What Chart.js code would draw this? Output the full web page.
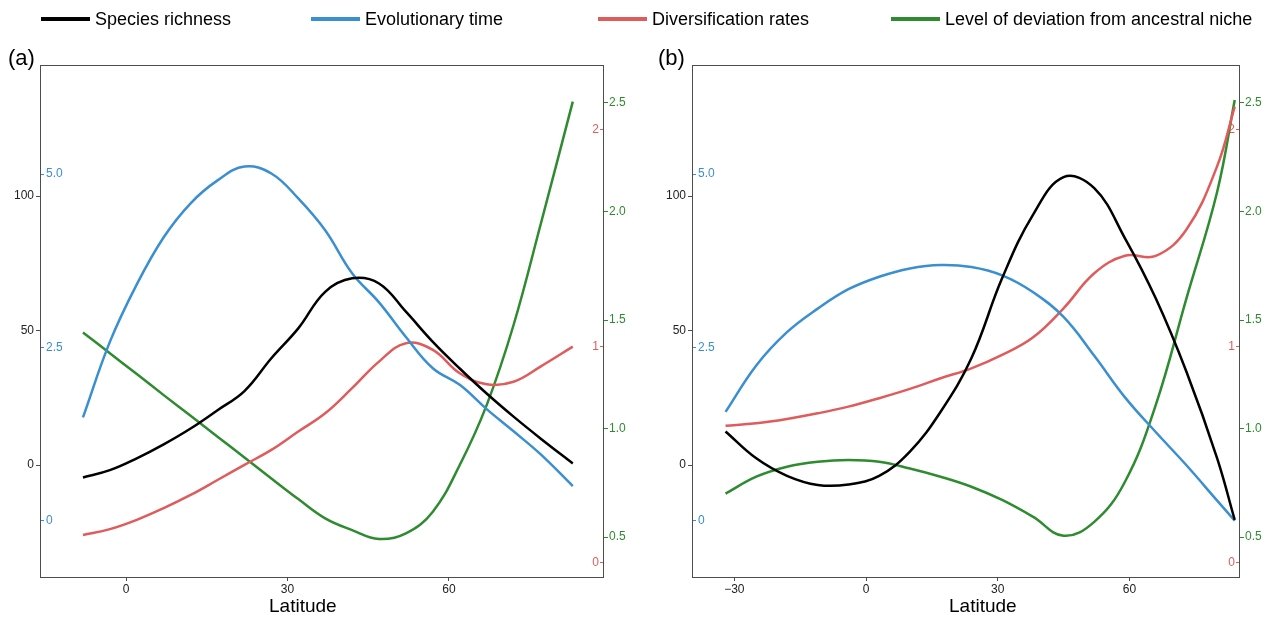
<!DOCTYPE html>
<html>
<head>
<meta charset="utf-8">
<script src="https://cdn.jsdelivr.net/npm/chart.js@4.4.1/dist/chart.umd.min.js"></script>
<style>
  body { margin: 0; background: #fff; font-family: "Liberation Sans", Arial, sans-serif; }
  #wrap { position: relative; width: 1285px; height: 617px; overflow: hidden; }
  canvas { position: absolute; top: 0; }
  #chartA { left: 0; }
  #chartB { left: 640px; }
  .legend-item { position: absolute; top: 9px; display: flex; align-items: center; font-size: 18px; line-height: 20px; color: #000; white-space: nowrap; }
  .legend-item span { display: inline-block; width: 49px; height: 4px; margin-right: 5px; }
  .panel { position: absolute; top: 45px; font-size: 22px; color: #000; }
  .xtitle { position: absolute; top: 596px; font-size: 19px; line-height: 20px; color: #000; }
</style>
</head>
<body>
<div id="wrap">
  <canvas id="chartA" width="640" height="617"></canvas>
  <canvas id="chartB" width="645" height="617"></canvas>
  <div id="legend"></div>
  <div class="panel" style="left:8px">(a)</div>
  <div class="panel" style="left:658px">(b)</div>
  <div class="xtitle" style="left:269px">Latitude</div>
  <div class="xtitle" style="left:949px">Latitude</div>
</div>
<script>
// series names + colours
const seriesNames = ["Species richness", "Evolutionary time", "Diversification rates", "Level of deviation from ancestral niche"];
const seriesColors = ["#000000", "#3a8fd1", "#e05b5b", "#2e8b30"];

// panel (a)
const latA = [-8, -3, 2, 7, 12, 17, 22, 27, 32, 37, 42, 47, 52, 57, 62, 67, 72, 77, 83];
const richnessA = [-4.6, -1.9, 2.5, 7.7, 13.6, 20.4, 27.5, 39.7, 50.8, 64.4, 69.4, 67.5, 57.0, 45.8, 35.9, 26.6, 18.0, 9.9, 0.6];
const timeA = [1.49, 2.58, 3.41, 4.09, 4.58, 4.91, 5.11, 5.01, 4.65, 4.19, 3.57, 3.15, 2.65, 2.20, 1.96, 1.61, 1.29, 0.96, 0.50];
const rateA = [0.129, 0.156, 0.199, 0.253, 0.314, 0.383, 0.453, 0.522, 0.607, 0.691, 0.807, 0.930, 1.015, 0.984, 0.876, 0.825, 0.837, 0.907, 0.999];
const nicheA = [1.443, 1.347, 1.251, 1.154, 1.059, 0.962, 0.867, 0.770, 0.675, 0.586, 0.532, 0.491, 0.517, 0.617, 0.832, 1.108, 1.477, 1.938, 2.506];

// panel (b)
const latB = [-32, -25, -18, -11, -4, 3, 10, 17, 24, 31, 38, 45, 52, 59, 66, 73, 80, 84];
const richnessB = [12.5, 2.5, -4.0, -7.4, -7.2, -4.0, 5.0, 19.8, 39.7, 69.4, 92.9, 107.0, 102.9, 84.3, 62.0, 34.7, 2.5, -20.4];
const timeB = [1.57, 2.24, 2.72, 3.06, 3.34, 3.52, 3.64, 3.69, 3.66, 3.54, 3.30, 2.94, 2.38, 1.78, 1.28, 0.80, 0.29, 0.0];
const rateB = [0.634, 0.645, 0.665, 0.691, 0.722, 0.761, 0.804, 0.853, 0.899, 0.961, 1.041, 1.176, 1.338, 1.419, 1.418, 1.54, 1.833, 2.108];
const nicheB = [0.70, 0.778, 0.824, 0.847, 0.855, 0.847, 0.816, 0.778, 0.732, 0.671, 0.594, 0.506, 0.57, 0.755, 1.108, 1.600, 2.091, 2.514];

// tick labels
const latTicksA = [0, 30, 60];
const latTicksB = [-30, 0, 30, 60];
const richnessTicks = [0, 50, 100];
const timeTicks = [0, 2.5, 5];
const rateTicks = [0, 1, 2];
const nicheTicks = [0.5, 1, 1.5, 2, 2.5];

Chart.defaults.font.family = '"Liberation Sans", Arial, sans-serif';
Chart.defaults.font.size = 12;

// html legend across both panels
const legendLeft = [41, 311, 598, 891];
const legend = document.getElementById("legend");
seriesNames.forEach((name, i) => {
  const item = document.createElement("div");
  item.className = "legend-item";
  item.style.left = legendLeft[i] + "px";
  item.innerHTML = `<span style="background:${seriesColors[i]}"></span>${name}`;
  legend.appendChild(item);
});

// box round the plot area
const frame = {
  id: "frame",
  afterDraw(chart) {
    const { ctx, chartArea: a } = chart;
    ctx.save();
    ctx.strokeStyle = "#4d4d4d";
    ctx.lineWidth = 1;
    ctx.strokeRect(Math.round(a.left) + 0.5, Math.round(a.top) + 0.5, Math.round(a.width) - 1, Math.round(a.height));
    ctx.restore();
  },
};

const setTicks = (values) => (scale) => {
  scale.ticks = values.map((v) => ({ value: v }));
};

function yAxis(opts) {
  return {
    position: opts.position,
    weight: opts.weight,
    min: opts.min,
    max: opts.max,
    afterBuildTicks: setTicks(opts.ticks),
    afterFit: (s) => { s.width = opts.width; },
    border: { display: false },
    grid: { drawOnChartArea: false, color: opts.tickColor, tickLength: opts.mirror ? -4 : 4 },
    ticks: {
      color: opts.color,
      mirror: opts.mirror,
      padding: opts.padding,
      callback: opts.format,
    },
  };
}

function drawPanel(id, lat, values, xMin, xMax, xTicks, leftW, rightW) {
  const datasets = values.map((vals, i) => ({
    label: seriesNames[i],
    data: lat.map((x, j) => ({ x, y: vals[j] })),
    yAxisID: ["yRich", "yTime", "yRate", "yNiche"][i],
    borderColor: seriesColors[i],
    borderWidth: 2.5,
    pointRadius: 0,
    tension: 0.4,
    fill: false,
  }));

  new Chart(document.getElementById(id), {
    type: "line",
    data: { datasets },
    options: {
      responsive: false,
      animation: false,
      layout: { padding: { top: 65, left: 0, right: 0, bottom: 0 } },
      plugins: { legend: { display: false }, tooltip: { enabled: false } },
      scales: {
        x: {
          type: "linear",
          min: xMin,
          max: xMax,
          afterBuildTicks: setTicks(xTicks),
          afterFit: (s) => { s.height = 40; },
          border: { display: false },
          grid: { drawOnChartArea: false, color: "#4d4d4d", tickLength: 4 },
          ticks: {
            color: "#222",
            padding: 1,
            maxRotation: 0,
            callback: (v) => (v < 0 ? "\u2212" + Math.abs(v) : String(v)),
          },
        },
        yRich: yAxis({ position: "left", weight: 1, min: -41.6, max: 148.7, ticks: richnessTicks, width: leftW,
          color: "#222", tickColor: "#4d4d4d", padding: 2, format: (v) => String(v) }),
        yTime: yAxis({ position: "left", weight: 0, min: -0.812, max: 6.575, ticks: timeTicks, width: 0, mirror: true,
          color: seriesColors[1], tickColor: seriesColors[1], padding: 6, format: (v) => (v === 0 ? "0" : v.toFixed(1)) }),
        yRate: yAxis({ position: "right", weight: 0, min: -0.065, max: 2.30, ticks: rateTicks, width: 0, mirror: true,
          color: seriesColors[2], tickColor: seriesColors[2], padding: -5, format: (v) => String(v) }),
        yNiche: yAxis({ position: "right", weight: 1, min: 0.316, max: 2.675, ticks: nicheTicks, width: rightW,
          color: seriesColors[3], tickColor: seriesColors[3], padding: 1, format: (v) => v.toFixed(1) }),
      },
    },
    plugins: [frame],
  });
}

drawPanel("chartA", latA, [richnessA, timeA, rateA, nicheA], -15.98, 88.8, latTicksA, 40, 36);
drawPanel("chartB", latB, [richnessB, timeB, rateB, nicheB], -39.64, 85.2, latTicksB, 52, 45);
</script>
</body>
</html>
